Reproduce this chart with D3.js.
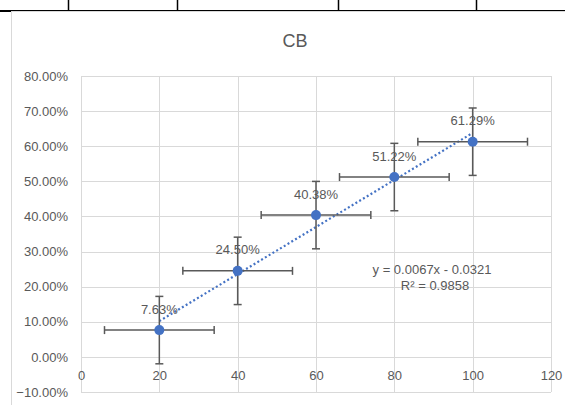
<!DOCTYPE html>
<html><head><meta charset="utf-8">
<script src="https://cdn.jsdelivr.net/npm/d3@7"></script>
<style>
html,body{margin:0;padding:0;background:#fff;}
svg{display:block;}
text{font-family:"Liberation Sans",Arial,sans-serif;fill:#595959;}
</style></head>
<body>
<script>
const xValues = [20, 40, 60, 80, 100];
const yValues = [0.0763, 0.2450, 0.4038, 0.5122, 0.6129];
const labels = ["7.63%", "24.50%", "40.38%", "51.22%", "61.29%"];
const xError = [14, 14, 14, 14, 14];
const yError = [0.096, 0.096, 0.096, 0.096, 0.096];
const xTicks = [0, 20, 40, 60, 80, 100, 120];
const yTicks = [-0.1, 0, 0.1, 0.2, 0.3, 0.4, 0.5, 0.6, 0.7, 0.8];
const trendSlope = 0.0067, trendIntercept = -0.0321;
const trendText = ["y = 0.0067x - 0.0321", "R² = 0.9858"];
const title = "CB";

(function(){
const W = 565, H = 405;
const svg = d3.select("body").append("svg").attr("width", W).attr("height", H);

// table lines above chart
const tableCols = [68, 177, 338, 476];
svg.append("line").attr("x1",0).attr("x2",W).attr("y1",10.5).attr("y2",10.5).attr("stroke","#000").attr("stroke-width",1);
svg.append("rect").attr("x",0).attr("y",10).attr("width",11).attr("height",2).attr("fill","#000");
tableCols.forEach(c => svg.append("line").attr("x1",c+0.5).attr("x2",c+0.5).attr("y1",0).attr("y2",10).attr("stroke","#000").attr("stroke-width",1.5));

// chart area border
svg.append("rect").attr("x",11.5).attr("y",11.5).attr("width",W).attr("height",H).attr("fill","#fff").attr("stroke","#d9d9d9");

const pl = 81, pr = 551, pt = 76, pb = 392;
const x = d3.scaleLinear().domain([0,120]).range([pl,pr]);
const y = d3.scaleLinear().domain([-0.1,0.8]).range([pb,pt]);

// gridlines
const g = svg.append("g");
yTicks.forEach(t => g.append("line").attr("x1",pl).attr("x2",pr).attr("y1",Math.round(y(t))+0.5).attr("y2",Math.round(y(t))+0.5).attr("stroke","#d9d9d9"));
xTicks.forEach(t => g.append("line").attr("y1",pt).attr("y2",pb).attr("x1",Math.round(x(t))+0.5).attr("x2",Math.round(x(t))+0.5).attr("stroke","#d9d9d9"));

// y axis labels
const fmt = d3.format(".2%");
const yAxis = d3.axisLeft(y).tickValues(yTicks).tickFormat(fmt).tickSize(0).tickPadding(13);
const ya = svg.append("g").attr("transform",`translate(${pl},0)`).call(yAxis);
ya.select(".domain").remove();
ya.selectAll("text").style("font-size","13px").attr("fill","#595959").style("font-family","Liberation Sans, Arial, sans-serif");

// x axis labels (at y=0)
const xAxis = d3.axisBottom(x).tickValues(xTicks).tickFormat(d3.format("d")).tickSize(0).tickPadding(14);
const xa = svg.append("g").attr("transform",`translate(0,${y(0)})`).call(xAxis);
xa.select(".domain").remove();
xa.selectAll("text").style("font-size","13px").attr("fill","#595959").style("font-family","Liberation Sans, Arial, sans-serif");

// title
svg.append("text").attr("x",295).attr("y",47).attr("text-anchor","middle").style("font-size","18px").text(title);

// trendline
svg.append("line")
  .attr("x1",x(xValues[0])).attr("y1",y(trendSlope*xValues[0]+trendIntercept))
  .attr("x2",x(xValues[xValues.length-1])).attr("y2",y(trendSlope*xValues[xValues.length-1]+trendIntercept))
  .attr("stroke","#4472C4").attr("stroke-width",2.2).attr("stroke-dasharray","2,2.4");

// error bars
const eb = svg.append("g").attr("stroke","#595959").attr("stroke-width",1.5);
xValues.forEach((xv,i) => {
  const yv = yValues[i];
  const x0 = x(xv-xError[i]), x1 = x(xv+xError[i]);
  const y0 = y(yv-yError[i]), y1 = y(yv+yError[i]);
  eb.append("line").attr("x1",x0).attr("x2",x1).attr("y1",y(yv)).attr("y2",y(yv));
  eb.append("line").attr("x1",x0).attr("x2",x0).attr("y1",y(yv)-4).attr("y2",y(yv)+4);
  eb.append("line").attr("x1",x1).attr("x2",x1).attr("y1",y(yv)-4).attr("y2",y(yv)+4);
  eb.append("line").attr("x1",x(xv)).attr("x2",x(xv)).attr("y1",y0).attr("y2",y1);
  eb.append("line").attr("x1",x(xv)-4).attr("x2",x(xv)+4).attr("y1",y0).attr("y2",y0);
  eb.append("line").attr("x1",x(xv)-4).attr("x2",x(xv)+4).attr("y1",y1).attr("y2",y1);
});

// markers
svg.append("g").selectAll("circle").data(xValues).join("circle")
  .attr("cx",d=>x(d)).attr("cy",(d,i)=>y(yValues[i])).attr("r",5).attr("fill","#4472C4");

// data labels
svg.append("g").selectAll("text").data(labels).join("text")
  .attr("x",(d,i)=>x(xValues[i])).attr("y",(d,i)=>y(yValues[i])-16.5)
  .attr("text-anchor","middle").style("font-size","13px").text(d=>d);

// trend equation
svg.append("text").attr("x",432).attr("y",274).attr("text-anchor","middle").style("font-size","13px").text(trendText[0]);
svg.append("text").attr("x",435).attr("y",290).attr("text-anchor","middle").style("font-size","13px").text(trendText[1]);
})();
</script>
</body></html>
